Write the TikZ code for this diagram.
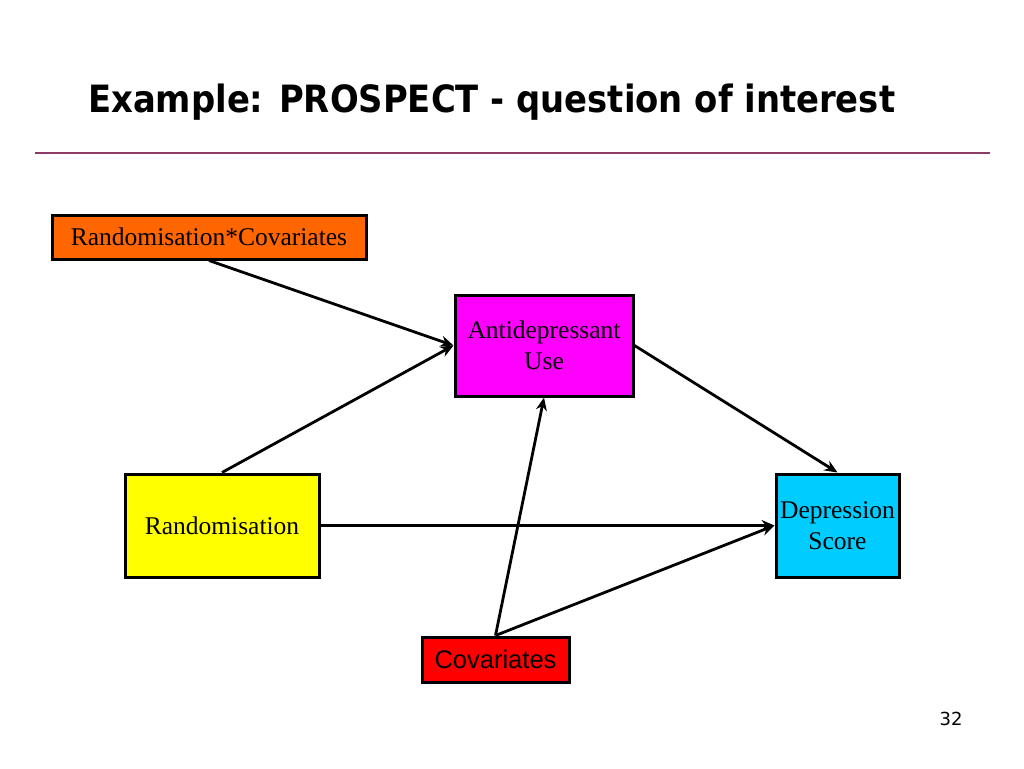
\documentclass[tikz,border=0pt]{standalone}
\usepackage{fontspec}
\setmainfont{Liberation Serif}
\newfontfamily\titlefont{DejaVu Sans Condensed}
\newfontfamily\pgfont{DejaVu Sans}
\newfontfamily\arialfont{Liberation Sans}
\usetikzlibrary{arrows.meta}
\definecolor{rulecol}{RGB}{140,60,100}
\definecolor{orangebox}{RGB}{255,102,0}
\definecolor{magbox}{RGB}{255,0,255}
\definecolor{yelbox}{RGB}{255,255,0}
\definecolor{cyanbox}{RGB}{0,204,255}
\definecolor{redbox}{RGB}{255,0,0}
\begin{document}
\begin{tikzpicture}[x=1pt,y=-1pt,
  box/.style={draw=black,line width=3pt,inner sep=0pt,align=center,text=black,font=\fontsize{25.5}{31}\selectfont},
  conn/.style={line width=2.8pt,-{Stealth[length=13pt,width=11pt]}}]
\useasboundingbox (0,0) rectangle (1024,768);
\node[anchor=base west,inner sep=0pt,font=\titlefont\bfseries\fontsize{37.6}{40}\selectfont] (title) at (88,112) {Example: PROSPECT - question of interest};
\draw[rulecol,line width=2.2pt] (35,153) coordinate (rl) -- (990,153) coordinate (rr);
\node[box,fill=orangebox,minimum width=314pt,minimum height=44pt] (rc) at (209,237) {Randomisation*Covariates};
\node[box,fill=magbox,minimum width=178pt,minimum height=101pt] (ad) at (544,345.5) {Antidepressant\\Use};
\node[box,fill=yelbox,minimum width=194pt,minimum height=103pt] (ra) at (222,525.5) {Randomisation};
\node[box,fill=cyanbox,minimum width=123pt,minimum height=103pt] (ds) at (837.5,525.5) {Depression\\Score};
\node[box,fill=redbox,minimum width=147pt,minimum height=45pt,font=\arialfont\fontsize{25.5}{31}\selectfont] (cv) at (495.5,659.5) {Covariates};
\node[anchor=base,font=\pgfont\fontsize{18}{20}\selectfont] (pg) at (951,725) {32};
\draw[conn] (rc.south) -- (ad.west);
\draw[conn] (ra.north) -- (ad.west);
\draw[conn] (cv.north) -- (ad.south);
\draw[conn] (cv.north) -- (ds.west);
\draw[conn] (ra.east) -- (ds.west);
\draw[conn] (ad.east) -- (ds.north);
\end{tikzpicture}
\end{document}
